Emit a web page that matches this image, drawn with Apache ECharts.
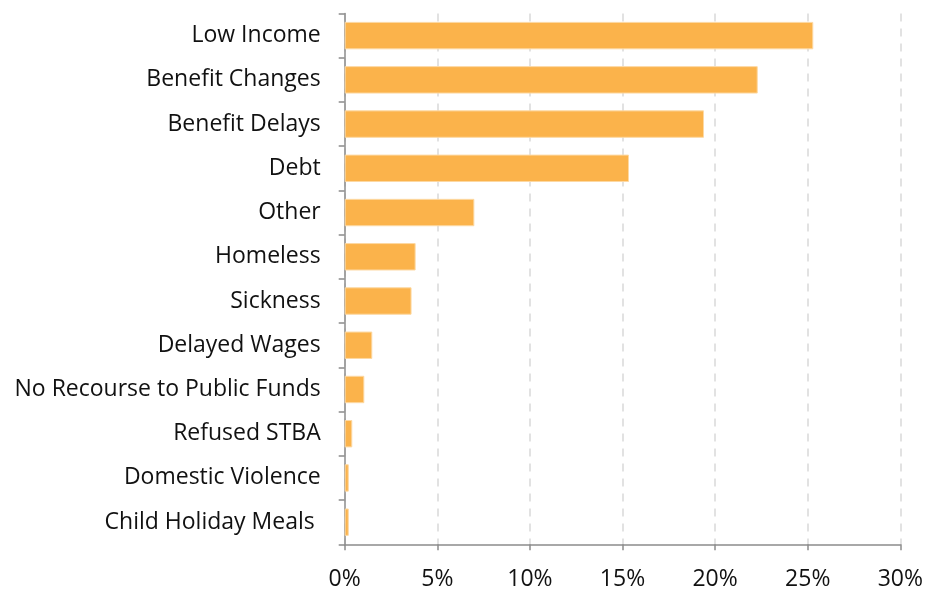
<!DOCTYPE html>
<html><head><meta charset="utf-8">
<script src="https://cdn.jsdelivr.net/npm/echarts@6/dist/echarts.min.js"></script>
<style>html,body{margin:0;padding:0;background:#fff}#c{width:926px;height:592px}</style>
</head><body><div id="c"></div>
<script>
const categories = ["Low Income","Benefit Changes","Benefit Delays","Debt","Other","Homeless","Sickness","Delayed Wages","No Recourse to Public Funds","Refused STBA","Domestic Violence","Child Holiday Meals "];
const values = [25.3, 22.3, 19.4, 15.35, 7.0, 3.83, 3.61, 1.49, 1.06, 0.41, 0.22, 0.22];
const xTicks = [0,5,10,15,20,25,30];
const FONT = "Open Sans";
const chart = echarts.init(document.getElementById('c'), null, {renderer:'canvas'});
chart.setOption({
  animation:false,
  grid:{left:344.7, right:24.5, top:13.5, bottom:47.7, containLabel:false},
  xAxis:{type:'value', min:0, max:30, interval:5,
    axisLine:{show:true, lineStyle:{color:'#8c8c8c', width:1.5}},
    axisTick:{show:true, length:6, lineStyle:{color:'#8c8c8c', width:1.5}},
    axisLabel:{formatter:v=>xTicks.includes(v)?v+'%':'', fontFamily:FONT, fontSize:23, color:'#111', margin:24},
    splitLine:{show:true, lineStyle:{color:'#d9d9d9', width:1.5, type:[8,7]}}
  },
  yAxis:{type:'category', data:categories, inverse:true,
    axisLine:{show:true, lineStyle:{color:'#8c8c8c', width:1.5}},
    axisTick:{show:true, length:6, alignWithLabel:false, lineStyle:{color:'#8c8c8c', width:1.5}},
    axisLabel:{fontFamily:FONT, fontSize:23, color:'#111', margin:24, padding:[4,0,0,0]},
    splitLine:{show:false}
  },
  series:[{type:'bar', data:values, barCategoryGap:'38%',
    itemStyle:{color:'#fbb34b', borderColor:'#fdd9a3', borderWidth:1}
  }]
});
</script></body></html>
